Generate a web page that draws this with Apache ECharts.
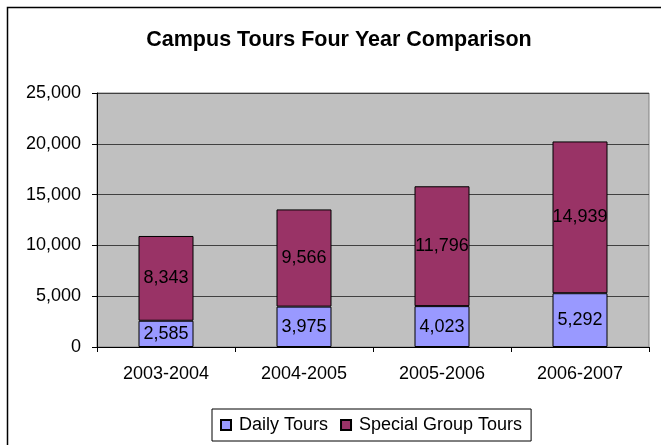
<!DOCTYPE html>
<html><head><meta charset="utf-8">
<script src="https://cdn.jsdelivr.net/npm/echarts@6/dist/echarts.min.js"></script>
<style>html,body{margin:0;padding:0;background:#fff;}#c{width:661px;height:445px;}</style>
</head><body><div id="c"></div>
<script>
const categories = ['2003-2004','2004-2005','2005-2006','2006-2007'];
const dailyTours = [2585, 3975, 4023, 5292];
const specialGroupTours = [8343, 9566, 11796, 14939];
const seriesNames = ['Daily Tours','Special Group Tours'];

const chart = echarts.init(document.getElementById('c'), null, {renderer:'canvas'});
const fmt = v => v.toLocaleString('en-US');
const font = 'Liberation Sans, Arial, sans-serif';
const lbl = {show:true, position:'inside', color:'#000', fontFamily:font, fontSize:18, formatter:p=>fmt(p.value)};
chart.setOption({
  animation:false,
  graphic:[{type:'rect', shape:{x:7.5,y:7.5,width:700,height:500}, style:{fill:'none',stroke:'#000',lineWidth:1.5}, z:-10}],
  title:{text:'Campus Tours Four Year Comparison', left:334, top:24, textAlign:'center',
    textStyle:{fontFamily:font, fontSize:21.5, fontWeight:'bold', color:'#000'}},
  grid:{left:97, top:93, right:12, bottom:98, show:true, backgroundColor:'#C0C0C0', borderColor:'#808080', borderWidth:1},
  legend:{bottom:4, left:212, itemWidth:10, itemHeight:10, itemGap:12, icon:'rect',
    borderColor:'#000', borderWidth:1, padding:[7,9,7,8],
    textStyle:{fontFamily:font, fontSize:18, color:'#000', padding:[0,0,0,3]},
    data:seriesNames},
  xAxis:{type:'category', data:categories,
    axisLine:{show:true, lineStyle:{color:'#000'}},
    axisTick:{show:true, length:5, alignWithLabel:false, lineStyle:{color:'#000'}},
    axisLabel:{color:'#000', fontFamily:font, fontSize:18, margin:18},
    splitLine:{show:false}},
  yAxis:{type:'value', min:0, max:25000, interval:5000,
    axisLine:{show:true, lineStyle:{color:'#000'}},
    axisTick:{show:true, length:5, lineStyle:{color:'#000'}},
    axisLabel:{color:'#000', fontFamily:font, fontSize:18, margin:16, formatter:v=>fmt(v)},
    splitLine:{show:true, lineStyle:{color:'#404040', width:1}}},
  series:[
    {name:seriesNames[0], type:'bar', stack:'t', data:dailyTours, barWidth:55,
     itemStyle:{color:'#9999FF', borderColor:'#000', borderWidth:1}, label:lbl},
    {name:seriesNames[1], type:'bar', stack:'t', data:specialGroupTours, barWidth:55,
     itemStyle:{color:'#993366', borderColor:'#000', borderWidth:1}, label:lbl}
  ]
});
</script></body></html>
